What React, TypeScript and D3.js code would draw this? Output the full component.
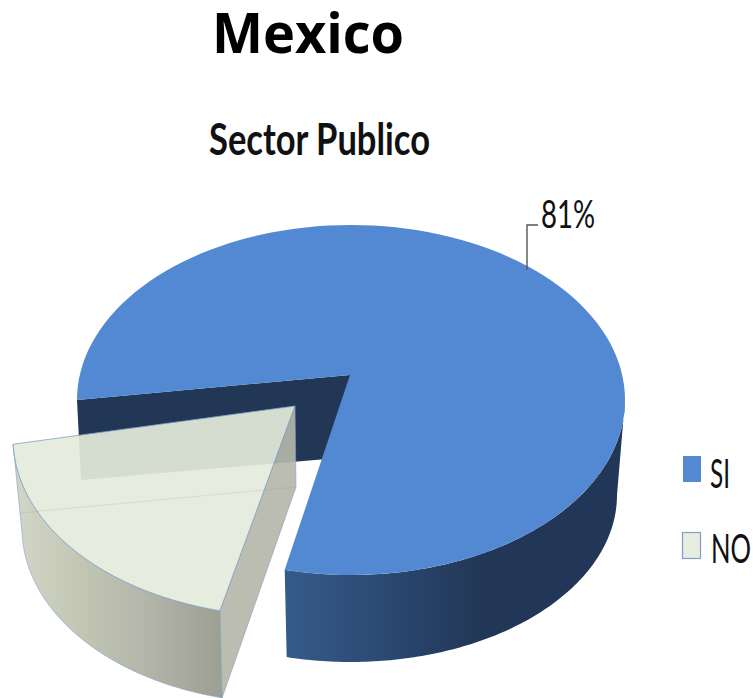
import React from "react";
import * as d3 from "d3";

const categories = ["SI", "NO"];
const seriesValues = [81, 19];
const labelTexts = ["81%"];
const titleText = "Mexico";
const subtitleText = "Sector Publico";

type Ell = { cx: number; cy: number; rx: number; ry: number };
const siTop: Ell = { cx: 351, cy: 400, rx: 274, ry: 175 };
const siBot: Ell = { cx: 351, cy: 495, rx: 266, ry: 167 };
const noTop: Ell = { cx: 286, cy: 438, rx: 273, ry: 178 };
const noBot: Ell = { cx: 286, cy: 528, rx: 264, ry: 175 };
const siApex: [number, number] = [350, 375];
const noApex: [number, number] = [295, 406];

const pt = (e: Ell, deg: number): [number, number] => {
  const r = (deg * Math.PI) / 180;
  return [e.cx + e.rx * Math.sin(r), e.cy - e.ry * Math.cos(r)];
};
const arcPts = (e: Ell, a: number, b: number) =>
  d3.range(0, 121).map((i) => pt(e, a + ((b - a) * i) / 120));
const line = d3.line();
const closed = (p: [number, number][]) => (line(p) as string) + "Z";
const font = "Lato, 'Open Sans', sans-serif";

export default function App() {
  const arcs = d3.pie<number>().sort(null)(seriesValues);
  const siAngle = d3.scaleLinear().domain([arcs[0].startAngle, arcs[0].endAngle]).range([-90, 194]);
  const noAngle = d3.scaleLinear().domain([arcs[1].startAngle, arcs[1].endAngle]).range([194, 268]);
  const a0 = siAngle(arcs[0].startAngle);
  const a1 = siAngle(arcs[0].endAngle);
  const b0 = noAngle(arcs[1].startAngle);
  const b1 = noAngle(arcs[1].endAngle);

  const siFace = closed([siApex, ...arcPts(siTop, a0, a1)]);
  const siSide = closed([...arcPts(siTop, 90, a1), ...arcPts(siBot, a1, 90)]);
  const siLeft = pt(siTop, a0);
  const siWall = closed([siLeft, siApex, [350, 457], [81, 480]]);

  const noFace = closed([noApex, ...arcPts(noTop, b0, b1)]);
  const noOuter = closed([...arcPts(noTop, b0, b1), ...arcPts(noBot, b1, b0)]);
  const noStart = pt(noTop, b0);
  const noStartB = pt(noBot, b0);
  const noCut = closed([noApex, [296, 487], noStartB, noStart]);

  const noFill = "rgb(229,235,219)";
  const edge = "#7d9fc9";

  return (
    <svg width={753} height={698} style={{ position: "absolute", left: 0, top: 0 }}>
      <defs>
        <linearGradient id="siG" gradientUnits="userSpaceOnUse" x1={285} x2={480} y1={0} y2={0}>
          <stop offset="0" stopColor="#365b89" />
          <stop offset="0.45" stopColor="#2c4b75" />
          <stop offset="1" stopColor="#223757" />
        </linearGradient>
        <linearGradient id="noG" gradientUnits="userSpaceOnUse" x1={20} x2={221} y1={0} y2={0}>
          <stop offset="0" stopColor="#d2d5c6" />
          <stop offset="0.3" stopColor="#c2c6b3" />
          <stop offset="0.6" stopColor="#b4b7aa" />
          <stop offset="1" stopColor="#9d9f92" />
        </linearGradient>
      </defs>

      <text x={212} y={53} fontFamily="'Open Sans', sans-serif" fontWeight={700} fontSize={56}
        textLength={192} lengthAdjust="spacingAndGlyphs" fill="#000">{titleText}</text>
      <text x={209} y={155} fontFamily={font} fontWeight={700} fontSize={44}
        textLength={221} lengthAdjust="spacingAndGlyphs" fill="#111">{subtitleText}</text>

      {/* SI slice */}
      <path d={siWall} fill="#223756" />
      <path d={siSide} fill="url(#siG)" />
      <path d={siFace} fill="#5388d3" />

      {/* NO slice */}
      <path d={noOuter} fill="url(#noG)" stroke={edge} strokeWidth={0.6} />
      <path d={noCut} fill="rgb(180,183,169)" fillOpacity={0.92} stroke={edge} strokeWidth={0.6} />
      <path d={noFace} fill={noFill} fillOpacity={0.92} stroke={edge} strokeWidth={0.8} />
      <line x1={20} y1={513} x2={296} y2={487} stroke="#8a8f80" strokeOpacity={0.18} strokeWidth={1} />

      {/* data label */}
      <path d="M527,270V225H538" fill="none" stroke="#555" strokeWidth={1.4} />
      <text x={541} y={228} fontFamily={font} fontSize={39}
        textLength={54} lengthAdjust="spacingAndGlyphs" fill="#111">{labelTexts[0]}</text>

      {/* legend */}
      <rect x={683} y={456} width={18} height={26} fill="#5388d3" />
      <text x={710} y={488} fontFamily={font} fontSize={41}
        textLength={20} lengthAdjust="spacingAndGlyphs" fill="#111">{categories[0]}</text>
      <rect x={682.5} y={532.5} width={18} height={26} fill="#e7eddf" stroke={edge} strokeWidth={1.2} />
      <text x={711} y={563} fontFamily={font} fontSize={41}
        textLength={40} lengthAdjust="spacingAndGlyphs" fill="#111">{categories[1]}</text>
    </svg>
  );
}
